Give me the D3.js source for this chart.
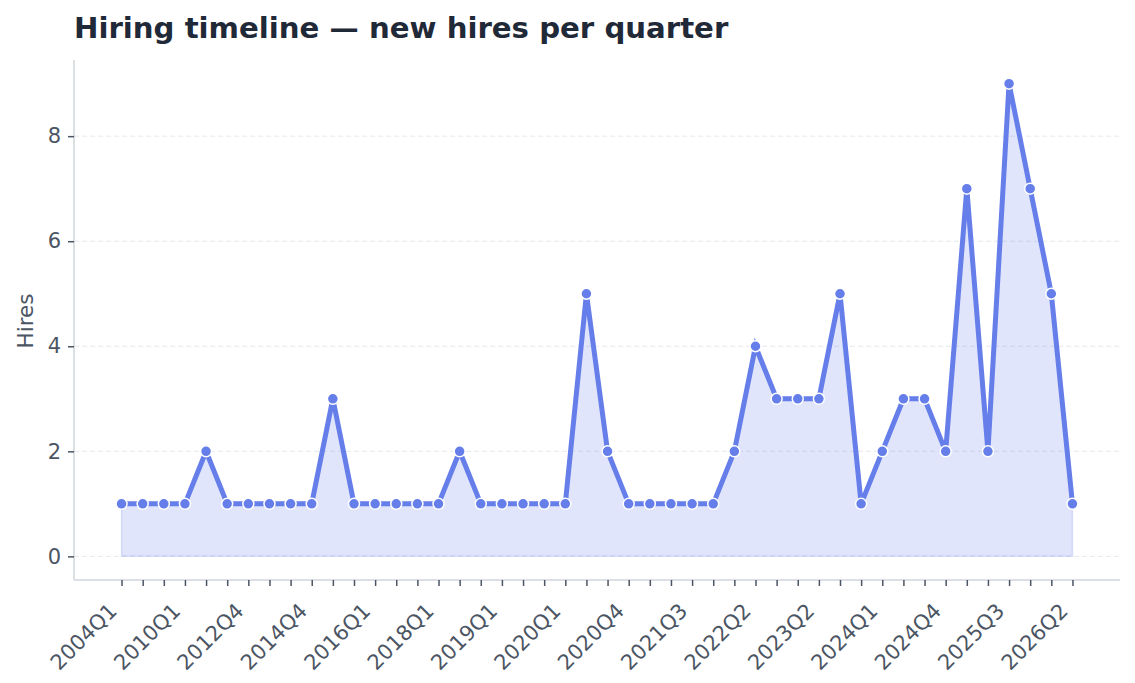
<!DOCTYPE html>
<html>
<head>
<meta charset="utf-8">
<script src="https://cdn.jsdelivr.net/npm/d3@7"></script>
<style>
    body { margin: 0; background: #fff; }
    svg { display: block; font-family: "DejaVu Sans", sans-serif; }
</style>
</head>
<body>
<div id="chart"></div>
<script>
const quarters = [
    "2004Q1", "2006Q3", "2008Q2", "2010Q1", "2011Q2", "2012Q1", "2012Q4", "2013Q3",
    "2014Q2", "2014Q4", "2015Q2", "2015Q3", "2016Q1", "2016Q3", "2017Q2", "2018Q1",
    "2018Q2", "2018Q4", "2019Q1", "2019Q3", "2019Q4", "2020Q1", "2020Q2", "2020Q3",
    "2020Q4", "2021Q1", "2021Q2", "2021Q3", "2021Q4", "2022Q1", "2022Q2", "2022Q3",
    "2023Q1", "2023Q2", "2023Q3", "2023Q4", "2024Q1", "2024Q2", "2024Q3", "2024Q4",
    "2025Q1", "2025Q2", "2025Q3", "2025Q4", "2026Q1", "2026Q2"
]
const hires = [
    1, 1, 1, 1, 2, 1, 1, 1, 1, 1, 3, 1, 1, 1, 1, 1,
    2, 1, 1, 1, 1, 1, 5, 2, 1, 1, 1, 1, 1, 2, 4, 3,
    3, 3, 5, 1, 2, 3, 3, 2, 7, 2, 9, 7, 5, 1
]
const yTicks = [0, 2, 4, 6, 8]

const width = 1135
const height = 683
const marginLeft = 74
const marginRight = 15
const marginTop = 60
const marginBottom = 103
const lineColor = "#667eea"
const textColor = "#4b5563"

const data = quarters.map((q, i) => ({q, v: hires[i]}))

// matplotlib-like 5% margins on both axes
const x = d3.scalePoint(quarters, [marginLeft, width - marginRight]).padding(2.25)
const yMax = d3.max(hires)
const y = d3.scaleLinear([-yMax * 0.05, yMax * 1.05], [height - marginBottom, marginTop])

const svg = d3.select("#chart").append("svg")
    .attr("width", width)
    .attr("height", height)
    .attr("viewBox", [0, 0, width, height])

// title
svg.append("text")
    .attr("x", marginLeft)
    .attr("y", 38)
    .attr("fill", "#1f2937")
    .attr("font-size", 29.2)
    .attr("font-weight", "bold")
    .text("Hiring timeline — new hires per quarter")

// grid
svg.append("g")
    .selectAll("line")
    .data(yTicks)
    .join("line")
    .attr("x1", marginLeft)
    .attr("x2", width - marginRight)
    .attr("y1", d => y(d))
    .attr("y2", d => y(d))
    .attr("stroke", "#e5e7eb")
    .attr("stroke-width", 1)
    .attr("stroke-dasharray", "5,3")

// area
const area = d3.area()
    .x(d => x(d.q))
    .y0(y(0))
    .y1(d => y(d.v))
svg.append("path")
    .datum(data)
    .attr("d", area)
    .attr("fill", lineColor)
    .attr("fill-opacity", 0.2)
    .attr("stroke", lineColor)
    .attr("stroke-opacity", 0.2)
    .attr("stroke-width", 1.5)

// line
const line = d3.line()
    .x(d => x(d.q))
    .y(d => y(d.v))
svg.append("path")
    .datum(data)
    .attr("d", line)
    .attr("fill", "none")
    .attr("stroke", lineColor)
    .attr("stroke-width", 5)
    .attr("stroke-linejoin", "miter")

// markers
svg.append("g")
    .selectAll("circle")
    .data(data)
    .join("circle")
    .attr("cx", d => x(d.q))
    .attr("cy", d => y(d.v))
    .attr("r", 5.5)
    .attr("fill", lineColor)
    .attr("stroke", "#fff")
    .attr("stroke-width", 1.5)

// y axis
const yAxis = d3.axisLeft(y).tickValues(yTicks).tickSize(6).tickPadding(7)
svg.append("g")
    .attr("transform", `translate(${marginLeft},0)`)
    .call(yAxis)
    .call(g => g.select(".domain").attr("stroke", "#d1d5db").attr("stroke-width", 1.5)
        .attr("d", `M0,${y.range()[0]}V${y.range()[1]}`))
    .call(g => g.selectAll(".tick line").attr("stroke", "#4b5563").attr("stroke-width", 1.5))
    .call(g => g.selectAll(".tick text")
        .attr("fill", textColor)
        .attr("font-size", 21)
        .style("font-family", "DejaVu Sans, sans-serif"))

// x axis
const xAxis = d3.axisBottom(x).tickSize(6).tickPadding(6)
    .tickFormat((d, i) => i % 3 === 0 ? d : "")
svg.append("g")
    .attr("transform", `translate(0,${height - marginBottom})`)
    .call(xAxis)
    .call(g => g.select(".domain").attr("stroke", "#d1d5db").attr("stroke-width", 1.5)
        .attr("d", `M${marginLeft},0H${width - marginRight}`))
    .call(g => g.selectAll(".tick line").attr("stroke", "#4b5563").attr("stroke-width", 1.5))
    .call(g => g.selectAll(".tick text")
        .attr("fill", textColor)
        .attr("font-size", 21)
        .style("font-family", "DejaVu Sans, sans-serif")
        .attr("text-anchor", "end")
        .attr("dy", "0.35em")
        .attr("y", 0)
        .attr("transform", "translate(-9,27) rotate(-45)"))

// y label
svg.append("text")
    .attr("transform", `translate(33,321) rotate(-90)`)
    .attr("fill", textColor)
    .attr("font-size", 21.5)
    .attr("text-anchor", "middle")
    .text("Hires")
</script>
</body>
</html>
